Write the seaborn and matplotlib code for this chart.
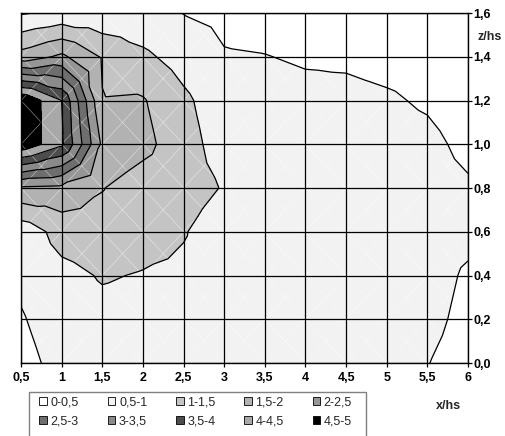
import numpy as np
import matplotlib
matplotlib.use("Agg")
import matplotlib.pyplot as plt
import matplotlib.tri as mtri
from matplotlib.patches import Patch, Rectangle
from matplotlib.collections import LineCollection
import seaborn as sns

# Measurement grid: horizontal position x/hs and height z/hs
x_pos = [0.5, 1.0, 1.5, 2.0, 2.5, 3.0, 3.5, 4.0, 4.5, 5.0, 5.5, 6.0]
z_pos = [0.0, 0.2, 0.4, 0.6, 0.8, 1.0, 1.2, 1.4, 1.6]

# Measured values, one list per height (left to right along x/hs)
row_z00 = [0.35, 0.65, 0.72, 0.75, 0.74, 0.72, 0.70, 0.68, 0.65, 0.60, 0.51, 0.35]
row_z02 = [0.46, 0.75, 0.85, 0.82, 0.78, 0.75, 0.72, 0.70, 0.67, 0.63, 0.60, 0.40]
row_z04 = [0.60, 0.85, 1.04, 0.97, 0.91, 0.80, 0.75, 0.72, 0.70, 0.67, 0.65, 0.45]
row_z06 = [0.68, 1.20, 1.30, 1.20, 1.03, 0.75, 0.74, 0.72, 0.70, 0.68, 0.66, 0.60]
row_z08 = [1.93, 1.87, 1.52, 1.25, 1.20, 0.97, 0.78, 0.74, 0.72, 0.68, 0.65, 0.55]
row_z10 = [4.90, 4.10, 1.90, 1.65, 1.20, 0.78, 0.72, 0.70, 0.68, 0.65, 0.60, 0.40]
row_z12 = [4.98, 4.00, 1.52, 1.54, 1.10, 0.70, 0.65, 0.60, 0.60, 0.55, 0.45, 0.30]
row_z14 = [1.70, 2.10, 1.45, 1.10, 0.80, 0.53, 0.51, 0.46, 0.44, 0.38, 0.35, 0.28]
row_z16 = [0.45, 0.62, 0.60, 0.65, 0.49, 0.40, 0.35, 0.32, 0.30, 0.28, 0.25, 0.20]

band_levels = [0.0, 0.5, 1.0, 1.5, 2.0, 2.5, 3.0, 3.5, 4.0, 4.5, 5.0]
band_labels = ["0-0,5", "0,5-1", "1-1,5", "1,5-2", "2-2,5",
               "2,5-3", "3-3,5", "3,5-4", "4-4,5", "4,5-5"]
x_tick_labels = ["0,5", "1", "1,5", "2", "2,5", "3", "3,5", "4", "4,5", "5", "5,5", "6"]
z_tick_labels = ["0,0", "0,2", "0,4", "0,6", "0,8", "1,0", "1,2", "1,4", "1,6"]

band_colors = ["#FFFFFF", "#F2F2F2", "#C4C4C4", "#B2B2B2", "#969696",
               "#6E6E6E", "#8A8A8A", "#4D4D4D", "#A8A8A8", "#000000"]

sns.set_style("white")
plt.rcParams["font.family"] = ["Liberation Sans", "DejaVu Sans"]

values = np.array([row_z00, row_z02, row_z04, row_z06, row_z08,
                   row_z10, row_z12, row_z14, row_z16])
xs = np.array(x_pos)
zs = np.array(z_pos)
nz, nx = values.shape

# Surface-chart style triangulation: every cell is split into four
# triangles meeting at the cell centre (centre value = mean of corners).
gx, gz = np.meshgrid(xs, zs)
px = list(gx.ravel())
pz = list(gz.ravel())
pv = list(values.ravel())
triangles = []
diagonals = []
for j in range(nz - 1):
    for i in range(nx - 1):
        a = j * nx + i
        b = j * nx + i + 1
        c = (j + 1) * nx + i + 1
        d = (j + 1) * nx + i
        m = len(px)
        px.append((xs[i] + xs[i + 1]) / 2)
        pz.append((zs[j] + zs[j + 1]) / 2)
        pv.append(values[j:j + 2, i:i + 2].mean())
        triangles += [[a, b, m], [b, c, m], [c, d, m], [d, a, m]]
        diagonals.append([(xs[i], zs[j]), (xs[i + 1], zs[j + 1])])
        diagonals.append([(xs[i + 1], zs[j]), (xs[i], zs[j + 1])])

tri = mtri.Triangulation(px, pz, triangles)

W, H = 506, 436
fig = plt.figure(figsize=(W / 100, H / 100), dpi=100)
ax = fig.add_axes([21 / W, 1 - 363 / H, 447 / W, 350 / H])

ax.tricontourf(tri, pv, levels=band_levels, colors=band_colors, zorder=1)
ax.add_collection(LineCollection(diagonals, colors="white", linewidths=0.5,
                                 alpha=0.5, zorder=1.5))
ax.tricontour(tri, pv, levels=band_levels[1:-1], colors="black",
              linewidths=0.9, zorder=2)

ax.set_xlim(xs[0], xs[-1])
ax.set_ylim(zs[0], zs[-1])
ax.set_xticks(xs)
ax.set_xticklabels(x_tick_labels)
ax.set_yticks(zs)
ax.set_yticklabels(z_tick_labels)
ax.yaxis.tick_right()
ax.grid(True, color="black", linewidth=0.9)
ax.set_axisbelow(False)
for sp in ax.spines.values():
    sp.set_color("black")
    sp.set_linewidth(1.0)
    sp.set_visible(True)
ax.tick_params(axis="x", direction="out", length=3, width=0.9, pad=3.5,
               labelsize=9, bottom=True, colors="black")
ax.tick_params(axis="y", direction="out", length=3, width=0.9, pad=1.0,
               labelsize=9, right=True, left=False, colors="black")
for lab in ax.get_xticklabels() + ax.get_yticklabels():
    lab.set_fontweight("bold")

fig.text(490 / W, 1 - 37.5 / H, "z/hs", ha="center", va="center",
         fontsize=9, fontweight="bold")
fig.text(448 / W, 1 - 406 / H, "x/hs", ha="center", va="center",
         fontsize=9, fontweight="bold")

# Legend box (open at the bottom edge of the figure)
fig.add_artist(Rectangle((29 / W, 1 - 445 / H), 337 / W, 53 / H,
                         transform=fig.transFigure, facecolor="white",
                         edgecolor="#808080", linewidth=1.0, zorder=0))

handles = [Patch(facecolor=c, edgecolor="black", linewidth=0.6, label=l)
           for c, l in zip(band_colors, band_labels)]
order = [0, 5, 1, 6, 2, 7, 3, 8, 4, 9]
leg = fig.legend([handles[k] for k in order], [band_labels[k] for k in order],
                 ncol=5, loc="upper left", bbox_to_anchor=(39.5 / W, 1 - 396.5 / H),
                 bbox_transform=fig.transFigure, borderaxespad=0, fontsize=9,
                 handlelength=0.6, handleheight=0.6, handletextpad=0.3,
                 columnspacing=2.3, labelspacing=0.55, borderpad=0,
                 frameon=False)

fig.savefig("out.png", dpi=100)
